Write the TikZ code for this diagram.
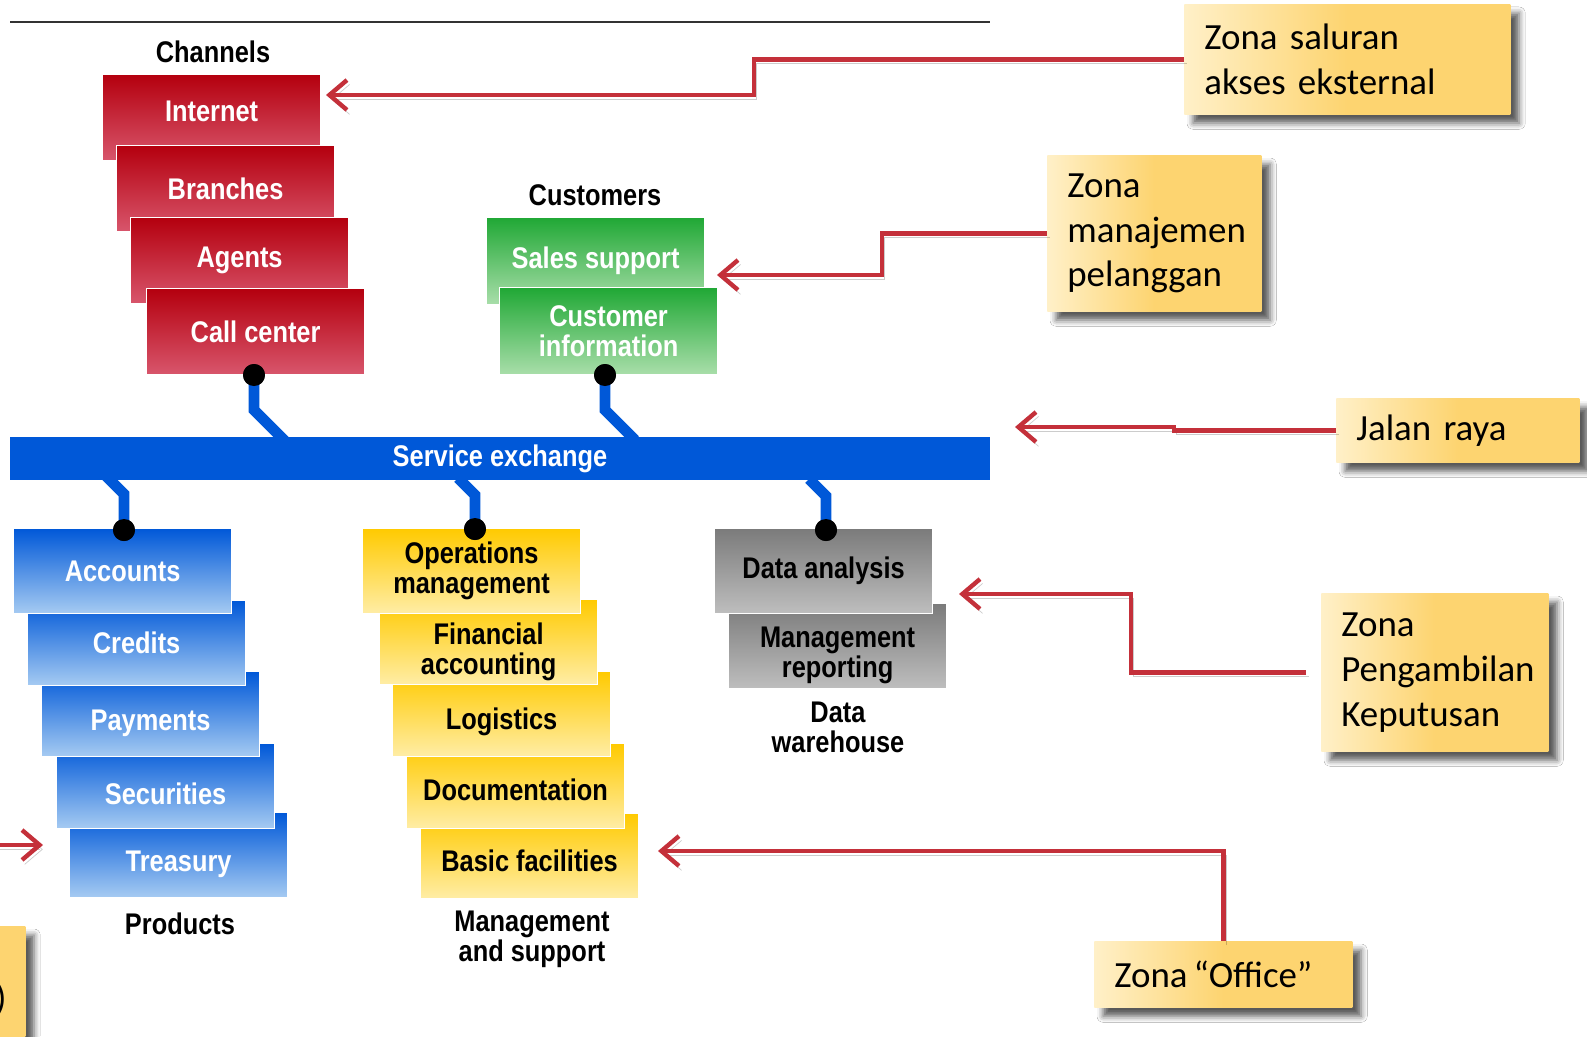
\documentclass[tikz,border=0pt]{standalone}
\usepackage{fontspec}
\setmainfont{Liberation Sans}
\newfontfamily\cond[FakeStretch=0.85]{Liberation Sans}
\newfontfamily\zona{Carlito}
\usetikzlibrary{arrows.meta,calc,shadows.blur}
\definecolor{rtop}{HTML}{B4000E}
\definecolor{rbot}{HTML}{D8566C}
\definecolor{gtop}{HTML}{20A835}
\definecolor{gbot}{HTML}{A9DEAA}
\definecolor{btop}{HTML}{0058D8}
\definecolor{bbot}{HTML}{A6CBF2}
\definecolor{ytop}{HTML}{FFCA00}
\definecolor{ybot}{HTML}{FFEDA6}
\definecolor{ktop}{HTML}{7B7B7B}
\definecolor{kbot}{HTML}{BEBEBE}
\definecolor{barblue}{HTML}{0058D8}
\definecolor{redc}{HTML}{C4303A}
\definecolor{cla}{HTML}{FFF0C8}
\definecolor{clb}{HTML}{FDD470}
\begin{document}
\begin{tikzpicture}[x=0.02cm,y=-0.02cm,
  box/.style={anchor=north west, minimum width=4.36cm, minimum height=1.72cm,
    draw=white, line width=0.7pt, inner sep=0pt, align=center,
    font=\cond\bfseries\fontsize{17}{17}\selectfont},
  redbox/.style={box, top color=rtop, bottom color=rbot, text=white},
  greenbox/.style={box, top color=gtop, bottom color=gbot, text=white, minimum height=1.74cm},
  bluebox/.style={box, top color=btop, bottom color=bbot, text=white, minimum height=1.70cm},
  yelbox/.style={box, top color=ytop, bottom color=ybot, text=black, minimum height=1.70cm},
  greybox/.style={box, top color=ktop, bottom color=kbot, text=black, minimum height=1.70cm},
  low/.style={text height=#1, text depth=0pt},
  lbl/.style={font=\cond\bfseries\fontsize{17}{17}\selectfont, align=center, text=black, inner sep=0pt},
  dot/.style={circle, fill=black, minimum size=0.44cm, inner sep=0pt},
  conn/.style={draw=barblue, line width=6.2pt},
  callout/.style={anchor=north west, inner xsep=0.4cm, inner ysep=0pt, align=left,
    font=\zona\fontsize{21}{25.6}\selectfont, left color=cla, right color=clb, middle color=clb,
    blur shadow={shadow xshift=5pt, shadow yshift=-5pt, shadow blur radius=3.5pt, shadow opacity=65}},
  redline/.style={draw=redc, line width=2.5pt, line join=miter,
    -{Straight Barb[length=10pt,width=17pt]},
    preaction={draw=black, draw opacity=0.2, transform canvas={xshift=1.5pt,yshift=-2.5pt}}}
]
\useasboundingbox (0,0) rectangle (1587,1036);
\clip (0,0) rectangle (1587,1036);
\fill[white] (0,0) rectangle (1587,1036);

% top rule
\draw[line width=1.2pt, black!80] (10,22) -- (990,22);

% Channels (lower boxes on top)
\node[lbl] (channels) at (213,52) {Channels};
\node[redbox, text depth=0.25cm] (internet) at (102,74) {Internet};
\node[redbox] (branches) at (116,145) {Branches};
\node[redbox] (agents) at (130,217) {Agents};
\node[redbox] (callc) at (146,288) {Call center};

% Customers
\node[lbl] (customers) at (595,195) {Customers};
\node[greenbox] (sales) at (486,217) {Sales support};
\node[greenbox] (custinfo) at (499,287) {Customer\\information};

% Products (upper boxes on top)
\node[bluebox, low=19.2pt] (treasury) at (69,812) {Treasury};
\node[bluebox, low=21pt] (securities) at (56,743) {Securities};
\node[bluebox, low=18.6pt] (payments) at (41,671) {Payments};
\node[bluebox] (credits) at (27,600) {Credits};
\node[bluebox] (accounts) at (13,528) {Accounts};
\node[lbl] (products) at (180,924) {Products};

% Management and support (upper boxes on top)
\node[yelbox, low=17.6pt] (basic) at (420,813) {Basic facilities};
\node[yelbox, low=16.4pt] (docu) at (406,743) {Documentation};
\node[yelbox, low=18pt] (logi) at (392,671) {Logistics};
\node[yelbox] (fin) at (379,599) {};
\node[lbl] (fintxt) at ([yshift=-0.2cm]fin.center) {Financial\\accounting};
\node[yelbox] (ops) at (362,528) {Operations\\management};
\node[lbl] (mands) at (532,939) {Management\\and support};

% Data warehouse (upper box on top)
\node[greybox] (mrep) at (728,603) {};
\node[lbl] (mreptxt) at ([yshift=-0.19cm]mrep.center) {Management\\reporting};
\node[greybox] (danal) at (714,528) {Data analysis};
\node[lbl] (dwh) at (838,727) {Data\\warehouse};

% dots
\node[dot] (d1) at (254,375) {};
\node[dot] (d2) at (605,375) {};
\node[dot] (d3) at (124,530) {};
\node[dot] (d4) at (475,529) {};
\node[dot] (d5) at (826,530) {};

% connectors to bus
\draw[conn] (d1.center) -- ++(0,35) -- ++(32,32);
\draw[conn] (d2.center) -- ++(0,35) -- ++(30,30);
\draw[conn] (d3.center) -- ++(0,-36) -- ++(-19,-19);
\draw[conn] (d4.center) -- ++(0,-34) -- ++(-17,-17);
\draw[conn] (d5.center) -- ++(0,-34) -- ++(-17,-17);

% bus
\node[fill=barblue, minimum width=19.6cm, minimum height=0.86cm, inner sep=0pt,
  text=white, font=\cond\bfseries\fontsize{17}{17}\selectfont] (bar) at (500,458.5) {Service exchange};

% dots on top
\fill[black] (d1) circle (0.22cm);
\fill[black] (d2) circle (0.22cm);
\fill[black] (d3) circle (0.22cm);
\fill[black] (d4) circle (0.22cm);
\fill[black] (d5) circle (0.22cm);

% callouts
\node[callout, text width=5.72cm, minimum height=2.2cm] (csal) at (1184,4) {Zona saluran\\akses eksternal};
\node[callout, text width=3.48cm, minimum height=3.12cm] (cman) at (1047,155) {Zona\\manajemen\\pelanggan};
\node[callout, text width=4.06cm, minimum height=1.28cm] (cjal) at (1336,398) {Jalan raya};
\node[callout, text width=3.74cm, minimum height=3.16cm] (cpen) at (1321,593) {Zona\\Pengambilan\\Keputusan};
\node[callout, text width=4.36cm, minimum height=1.32cm] (coff) at (1094,941) {Zona\,“Office”};
\node[callout, text width=4cm, minimum height=2.8cm] (cpart) at (-215,926) {};
\node[anchor=east, inner sep=0pt, font=\zona\fontsize{21}{25.6}\selectfont] (paren) at (7,1000) {)};

% red arrows
\coordinate (b1) at (754,95);   \coordinate (t1) at (326,95);
\coordinate (b2) at (882,275);  \coordinate (t2) at (717,275);
\coordinate (b3) at (1174,427); \coordinate (t3) at (1015,427);
\coordinate (b4) at (1131,594); \coordinate (t4) at (959,594);
\coordinate (t5) at (658,851);
\coordinate (s6) at (-20,845);  \coordinate (t6) at (43,845);
\coordinate (s4) at ($(cpen.west)+(-15,0)$);

\draw[redline] (csal.west) -- (csal.west -| b1) -- (b1) -- (t1);
\draw[redline] (cman.west) -- (cman.west -| b2) -- (b2) -- (t2);
\draw[redline] (cjal.west) -- (cjal.west -| b3) -- (b3) -- (t3);
\draw[redline] (s4) -- (s4 -| b4) -- (b4) -- (t4);
\draw[redline] (coff.north) -- (coff.north |- t5) -- (t5);
\draw[redline] (s6) -- (t6);
\end{tikzpicture}
\end{document}
